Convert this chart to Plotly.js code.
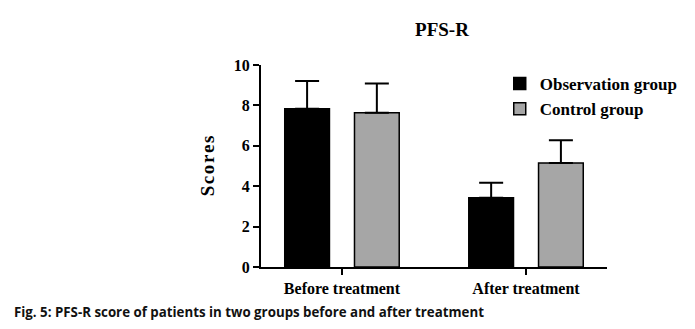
<!DOCTYPE html>
<html>
<head>
<meta charset="utf-8">
<script src="https://cdn.plot.ly/plotly-3.0.1.min.js"></script>
<style>html,body{margin:0;padding:0;background:#fff;}#chart{width:695px;height:329px;}</style>
</head>
<body>
<div id="chart"></div>
<script>
const categories = ["Before treatment", "After treatment"];
const observationMean = [7.84, 3.43];
const observationSD = [1.37, 0.74];
const controlMean = [7.64, 5.15];
const controlSD = [1.45, 1.12];
const seriesNames = ["Observation group", "Control group"];
const yTicks = [0, 2, 4, 6, 8, 10];

const serif = "Liberation Serif, Times New Roman, serif";

const traces = [
  {
    type: "bar", name: seriesNames[0], x: categories, y: observationMean,
    width: 0.243, offset: -0.311,
    marker: {color: "#000000", line: {color: "#000000", width: 1.5}},
    error_y: {type: "data", array: observationSD, arrayminus: [0, 0], symmetric: false, color: "#000", thickness: 2, width: 12}
  },
  {
    type: "bar", name: seriesNames[1], x: categories, y: controlMean,
    width: 0.243, offset: 0.068,
    marker: {color: "#a6a6a6", line: {color: "#000000", width: 1.5}},
    error_y: {type: "data", array: controlSD, arrayminus: [0, 0], symmetric: false, color: "#000", thickness: 2, width: 12}
  }
];

const layout = {
  width: 695, height: 329,
  margin: {l: 261, r: 71, t: 65, b: 62},
  paper_bgcolor: "#fff", plot_bgcolor: "#fff",
  showlegend: true,
  title: {text: "<b>PFS-R</b>", x: 0.636, xanchor: "center", y: 0.91, yanchor: "middle",
          font: {family: serif, size: 19, color: "#000"}},
  xaxis: {
    type: "category", range: [-0.44, 1.44],
    showline: true, linecolor: "#000", linewidth: 2,
    ticks: "outside", ticklen: 6, tickwidth: 2, tickcolor: "#000",
    showgrid: false, zeroline: false,
    tickfont: {family: serif, size: 16, color: "#000", weight: "bold"}
  },
  yaxis: {
    range: [0, 10], tickvals: yTicks, ticktext: yTicks.map(String),
    showline: true, linecolor: "#000", linewidth: 2,
    ticks: "outside", ticklen: 6, tickwidth: 2, tickcolor: "#000",
    showgrid: false, zeroline: false,
    tickfont: {family: serif, size: 16, color: "#000", weight: "bold"},
    title: {text: "<b>S\u200Ac\u200Ao\u200Ar\u200Ae\u200As</b>", standoff: 14, font: {family: serif, size: 19, color: "#000"}}
  },
  legend: {
    x: 0.69, y: 0.995, xanchor: "left", yanchor: "top",
    bgcolor: "rgba(0,0,0,0)",
    font: {family: serif, size: 17, color: "#000", weight: "bold"},
    tracegroupgap: 0, itemwidth: 30
  },
  annotations: [{
    text: "<b>Fig. 5: PFS-R score of patients in two groups before and after treatment</b>",
    xref: "paper", yref: "paper", x: -261/363, y: -45/202,
    xanchor: "left", yanchor: "middle", showarrow: false,
    font: {family: "Open Sans, Noto Sans, sans-serif", size: 13.3, color: "#111"}
  }]
};

Plotly.newPlot("chart", traces, layout, {displayModeBar: false, staticPlot: true});
</script>
</body>
</html>
